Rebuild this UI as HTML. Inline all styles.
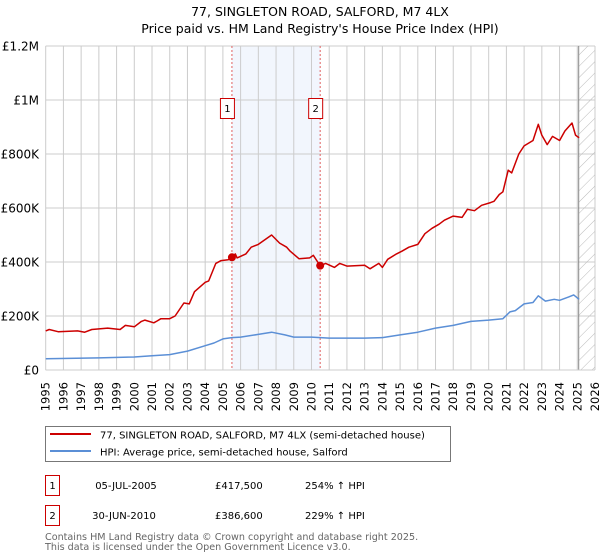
<!DOCTYPE html>
<html><head><meta charset="utf-8"><style>
body{margin:0;background:#fff;font-family:"Liberation Sans","DejaVu Sans",sans-serif;}
svg{display:block}
text{font-family:"DejaVu Sans","Liberation Sans",sans-serif;}
</style></head><body>
<svg id="c" width="600" height="560">
<text x="320" y="16" text-anchor="middle" font-size="12.5">77, SINGLETON ROAD, SALFORD, M7 4LX</text>
<text x="320" y="33" text-anchor="middle" font-size="12.5">Price paid vs. HM Land Registry's House Price Index (HPI)</text>
<g id="plot"></g>
<g>
<rect x="45.5" y="426.5" width="405" height="35" fill="#fff" stroke="#777"/>
<line x1="50" y1="434" x2="91" y2="434" stroke="#cc0000" stroke-width="2"/>
<text x="100" y="438.5" font-size="10">77, SINGLETON ROAD, SALFORD, M7 4LX (semi-detached house)</text>
<line x1="50" y1="451" x2="91" y2="451" stroke="#5b8fd6" stroke-width="2"/>
<text x="100" y="455.5" font-size="10">HPI: Average price, semi-detached house, Salford</text>
</g>
<g>
<rect x="45.5" y="475.5" width="14" height="20" fill="#fff" stroke="#cc0000"/>
<text x="52.5" y="489" text-anchor="middle" font-size="10">1</text>
<text x="126" y="489" text-anchor="middle" font-size="10">05-JUL-2005</text>
<text x="215" y="489" font-size="10">£417,500</text>
<text x="305" y="489" font-size="10">254% ↑ HPI</text>
</g>
<g>
<rect x="45.5" y="505.5" width="14" height="20" fill="#fff" stroke="#cc0000"/>
<text x="52.5" y="519" text-anchor="middle" font-size="10">2</text>
<text x="124" y="519" text-anchor="middle" font-size="10">30-JUN-2010</text>
<text x="215" y="519" font-size="10">£386,600</text>
<text x="305" y="519" font-size="10">229% ↑ HPI</text>
</g>
<text x="45" y="540" font-size="9.6" fill="#666">Contains HM Land Registry data © Crown copyright and database right 2025.</text>
<text x="45" y="550" font-size="9.6" fill="#666">This data is licensed under the Open Government Licence v3.0.</text>
</svg>
<script>
const yTicks=[0,200000,400000,600000,800000,1000000,1200000];
const yTickLabels=["£0","£200K","£400K","£600K","£800K","£1M","£1.2M"];
const years=[1995,1996,1997,1998,1999,2000,2001,2002,2003,2004,2005,2006,2007,2008,2009,2010,2011,2012,2013,2014,2015,2016,2017,2018,2019,2020,2021,2022,2023,2024,2025,2026];
const redT=[1995,1995.2,1995.7,1996.8,1997.2,1997.6,1998.5,1999.2,1999.5,2000,2000.4,2000.6,2001.1,2001.3,2001.5,2002,2002.3,2002.8,2003.1,2003.4,2004,2004.2,2004.6,2004.9,2005.3,2005.51,2005.7,2005.8,2006.3,2006.6,2007,2007.75,2008.2,2008.6,2008.8,2009.3,2009.9,2010.1,2010.35,2010.49,2010.8,2011.3,2011.6,2012,2013,2013.3,2013.8,2014,2014.3,2014.8,2015.1,2015.5,2016,2016.4,2016.8,2017.2,2017.5,2018,2018.5,2018.8,2019.2,2019.6,2020.1,2020.3,2020.6,2020.8,2021.1,2021.3,2021.7,2022,2022.5,2022.8,2023,2023.3,2023.6,2024,2024.3,2024.7,2024.9,2025.1];
const redV=[145,150,142,145,140,150,155,150,165,160,180,185,175,182,190,190,200,248,245,290,325,330,395,405,408,417.5,430,415,430,455,465,500,470,455,440,412,415,425,400,386.6,395,380,395,385,388,375,395,380,410,430,440,455,465,505,525,540,555,570,565,595,590,610,620,625,650,660,740,730,800,830,850,910,870,835,865,850,885,915,870,860];
const hpiT=[1995,1998,2000,2001,2002,2003,2004,2004.5,2005,2005.5,2006,2007,2007.75,2008.5,2009,2010,2011,2012,2013,2014,2015,2016,2017,2018,2019,2020,2020.8,2021.2,2021.5,2022,2022.5,2022.8,2023.2,2023.7,2024,2024.5,2024.8,2025.1];
const hpiV=[42,45,48,53,57,70,90,100,115,120,122,132,140,130,122,122,118,118,118,120,130,140,155,165,180,185,190,215,220,245,250,275,255,262,258,270,278,262];
const saleT=[2005.51,2010.49];
const saleV=[417.5,386.6];
const saleLabels=["1","2"];

const L=45.7,R=595,T=46,B=370,Y0=1995,Y1=2026,VMAX=1200000;
const xs=t=>L+(t-Y0)/(Y1-Y0)*(R-L);
const ys=v=>B-v/VMAX*(B-T);
const NS="http://www.w3.org/2000/svg";
const g=document.getElementById('plot');
function mk(tag,attrs,parent){const e=document.createElementNS(NS,tag);for(const k in attrs)e.setAttribute(k,attrs[k]);(parent||g).appendChild(e);return e;}
// shade
let sh=mk('rect',{x:xs(saleT[0]),y:T,width:xs(saleT[1])-xs(saleT[0]),height:B-T,fill:'#eef3fc',opacity:'0.75'});


// grid
years.forEach(y=>{const l=mk('line',{x1:xs(y),x2:xs(y),y1:T,y2:B,stroke:'#ccc','stroke-width':1});


const tx=xs(y)+4,ty=382;
const t=mk('text',{x:tx,y:ty,'font-size':11.5,transform:`rotate(-90 ${tx} ${ty})`,'text-anchor':'end'});t.textContent=y;

});
yTicks.forEach((v,i)=>{const l=mk('line',{x1:L,x2:R,y1:ys(v),y2:ys(v),stroke:'#ccc','stroke-width':1});


const t=mk('text',{x:39,y:ys(v)+4.5,'font-size':12,'text-anchor':'end'});t.textContent=yTickLabels[i];

});
// hatch future
const defs=mk('defs',{});
const p=mk('pattern',{id:'h',width:8,height:8,patternUnits:'userSpaceOnUse',patternTransform:'rotate(45)'},defs);
mk('line',{x1:0,y1:0,x2:0,y2:8,stroke:'#bbb','stroke-width':1},p);
const hx=xs(2025.08);
let ha=mk('rect',{x:hx,y:T,width:R-hx,height:B-T,fill:'url(#h)'});


mk('line',{x1:hx,x2:hx,y1:T,y2:B,stroke:'#888','stroke-width':1});
// sale lines
saleT.forEach((t,i)=>{const l=mk('line',{x1:xs(t),x2:xs(t),y1:T,y2:B,stroke:'#e06060','stroke-width':1,'stroke-dasharray':'2,2'});


const bx=mk('rect',{x:xs(t)-11.5,y:98.5,width:14,height:20,fill:'#fff',stroke:'#cc0000'});


const tt=mk('text',{x:xs(t)-4.5,y:112,'font-size':10,'text-anchor':'middle'});tt.textContent=saleLabels[i];});
// series
function line(T_,V,col,name){const d=T_.map((t,i)=>(i?'L':'M')+xs(t).toFixed(1)+','+ys(V[i]*1000).toFixed(1)).join('');
const e=mk('path',{d,fill:'none',stroke:col,'stroke-width':1.5,'stroke-linejoin':'round'});

}
line(hpiT,hpiV,'#5b8fd6','hpi-line');
line(redT,redV,'#cc0000','property-price-line');
saleT.forEach((t,i)=>{const c=mk('circle',{cx:xs(t),cy:ys(saleV[i]*1000),r:4,fill:'#cc0000'});

});
// axis
mk('line',{x1:L,x2:R,y1:B,y2:B,stroke:'#ccc'});
</script>
</body></html>
